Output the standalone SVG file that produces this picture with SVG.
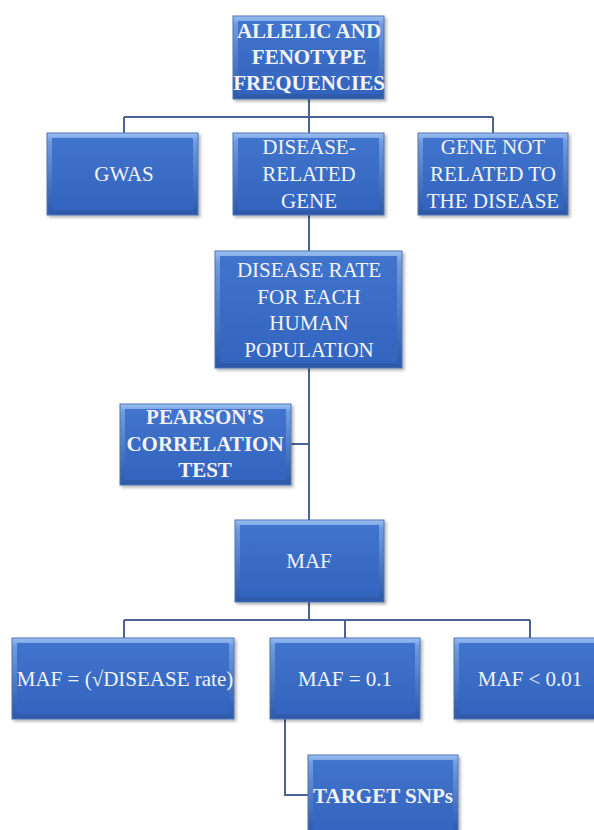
<svg xmlns="http://www.w3.org/2000/svg" width="594" height="830" viewBox="0 0 594 830">
<defs>
<linearGradient id="bevel" x1="0" y1="0" x2="0" y2="1">
<stop offset="0" stop-color="#9cc0f2"/>
<stop offset="0.1" stop-color="#6f9be0"/>
<stop offset="1" stop-color="#2c58a8"/>
</linearGradient>
<linearGradient id="face" x1="0" y1="0" x2="0" y2="1">
<stop offset="0" stop-color="#4174cc"/>
<stop offset="1" stop-color="#3364bf"/>
</linearGradient>
<filter id="sh" x="-10%" y="-10%" width="130%" height="130%">
<feDropShadow dx="2" dy="2" stdDeviation="1.5" flood-color="#000" flood-opacity="0.3"/>
</filter>
</defs>
<style>
.bev{fill:url(#bevel);stroke:#4f74b3;stroke-width:1;filter:url(#sh)}
.face{fill:url(#face)}
.t{font-family:"Liberation Serif","Times New Roman",serif;font-size:21px;fill:#f3f3f3;text-anchor:middle}
.b{font-weight:bold}
.c{fill:none;stroke:#4b6294;stroke-width:2}
</style>
<rect width="594" height="830" fill="#ffffff"/>
<g id="connectors">
<path class="c" d="M309 99 V117 M124 117 H493 M124 117 V133 M309 117 V133 M493 117 V133"/>
<path class="c" d="M309 215 V251"/>
<path class="c" d="M309 368 V520 M291 444 H309"/>
<path class="c" d="M309 602 V620 M124 620 H530 M124 620 V638 M345 620 V638 M530 620 V638"/>
<path class="c" d="M285 719 V795 H308"/>
</g>
<g id="n1">
<rect class="bev" x="233" y="16" width="151" height="83"/>
<rect class="face" x="238" y="21" width="141" height="73"/>
<text class="t b" x="309" y="38">ALLELIC AND</text>
<text class="t b" x="309" y="64">FENOTYPE</text>
<text class="t b" x="309" y="90">FREQUENCIES</text>
</g>
<g id="n2">
<rect class="bev" x="47" y="133" width="151" height="82"/>
<rect class="face" x="52" y="138" width="141" height="72"/>
<text class="t" x="124" y="181">GWAS</text>
</g>
<g id="n3">
<rect class="bev" x="233" y="133" width="151" height="82"/>
<rect class="face" x="238" y="138" width="141" height="72"/>
<text class="t" x="309" y="154">DISEASE-</text>
<text class="t" x="309" y="181">RELATED</text>
<text class="t" x="309" y="208">GENE</text>
</g>
<g id="n4">
<rect class="bev" x="418" y="133" width="150" height="82"/>
<rect class="face" x="423" y="138" width="140" height="72"/>
<text class="t" x="493" y="154">GENE NOT</text>
<text class="t" x="493" y="181">RELATED TO</text>
<text class="t" x="493" y="208">THE DISEASE</text>
</g>
<g id="n5">
<rect class="bev" x="215" y="251" width="187" height="117"/>
<rect class="face" x="220" y="256" width="177" height="107"/>
<text class="t" x="309" y="277">DISEASE RATE</text>
<text class="t" x="309" y="304">FOR EACH</text>
<text class="t" x="309" y="330">HUMAN</text>
<text class="t" x="309" y="357">POPULATION</text>
</g>
<g id="n6">
<rect class="bev" x="120" y="404" width="171" height="81"/>
<rect class="face" x="125" y="409" width="161" height="71"/>
<text class="t b" x="205" y="424">PEARSON'S</text>
<text class="t b" x="205" y="451">CORRELATION</text>
<text class="t b" x="205" y="477">TEST</text>
</g>
<g id="n7">
<rect class="bev" x="235" y="520" width="149" height="82"/>
<rect class="face" x="240" y="525" width="139" height="72"/>
<text class="t" x="309" y="568">MAF</text>
</g>
<g id="n8">
<rect class="bev" x="12" y="638" width="222" height="81"/>
<rect class="face" x="17" y="643" width="212" height="71"/>
<text class="t" x="125" y="686">MAF = (√DISEASE rate)</text>
</g>
<g id="n9">
<rect class="bev" x="270" y="638" width="150" height="81"/>
<rect class="face" x="275" y="643" width="140" height="71"/>
<text class="t" x="345" y="686">MAF = 0.1</text>
</g>
<g id="n10">
<rect class="bev" x="454" y="638" width="145" height="81"/>
<rect class="face" x="459" y="643" width="140" height="71"/>
<text class="t" x="530" y="686">MAF &lt;  0.01</text>
</g>
<g id="n11">
<rect class="bev" x="308" y="755" width="150" height="80"/>
<rect class="face" x="313" y="760" width="140" height="75"/>
<text class="t b" x="383" y="803">TARGET SNPs</text>
</g>
</svg>
